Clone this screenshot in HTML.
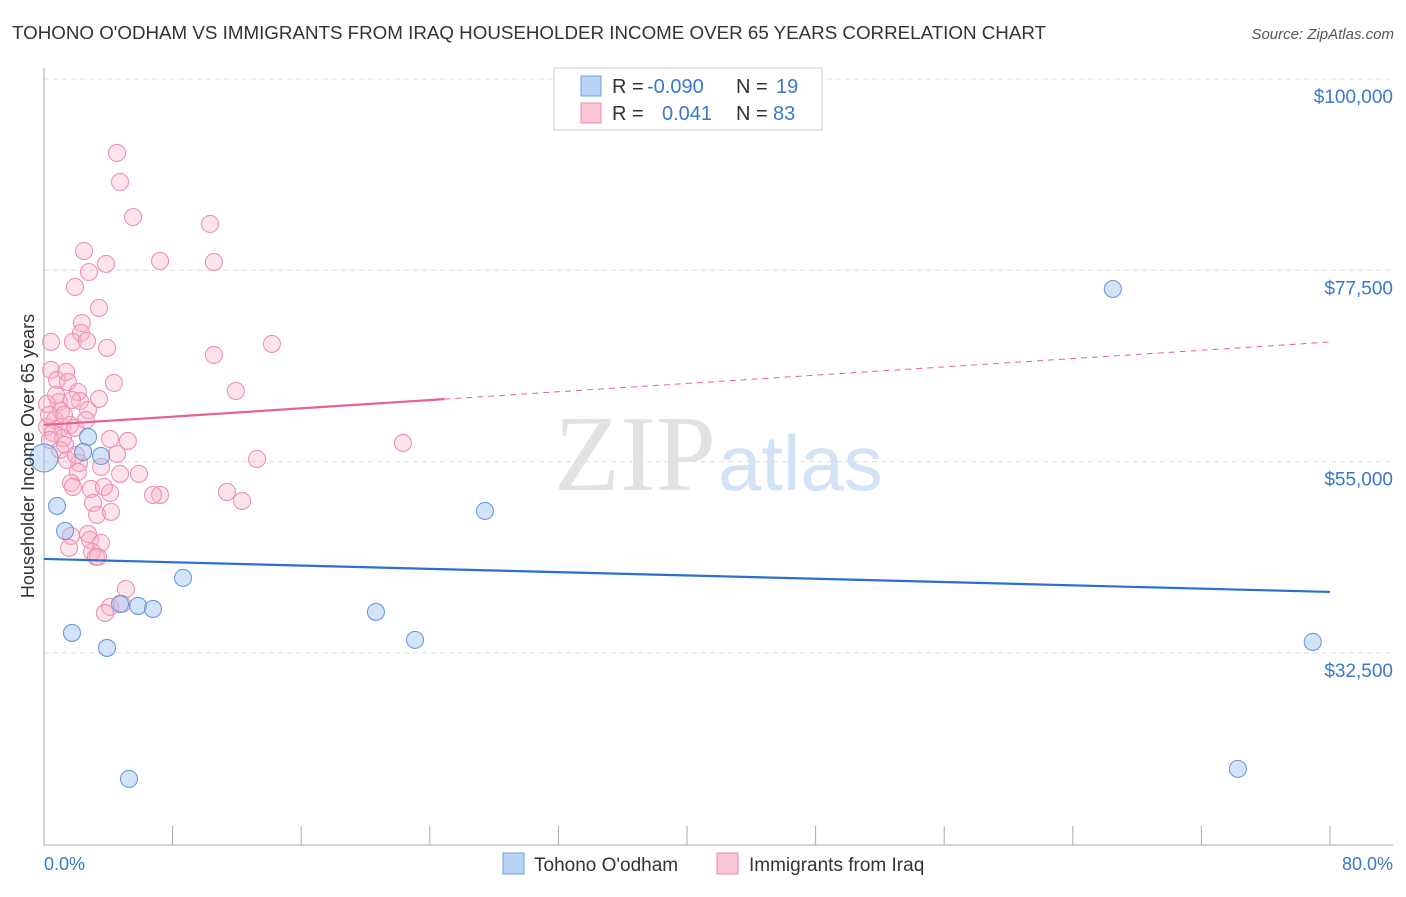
<!DOCTYPE html>
<html><head><meta charset="utf-8"><style>
body{margin:0;background:#fff;font-family:"Liberation Sans",sans-serif;}
</style></head><body>
<svg width="1406" height="892" viewBox="0 0 1406 892" xmlns="http://www.w3.org/2000/svg" font-family="Liberation Sans, sans-serif">
<text x="12" y="39" font-size="18" fill="#333" textLength="1034" lengthAdjust="spacingAndGlyphs">TOHONO O'ODHAM VS IMMIGRANTS FROM IRAQ HOUSEHOLDER INCOME OVER 65 YEARS CORRELATION CHART</text>
<text x="1394" y="39" font-size="15" fill="#555" font-style="italic" text-anchor="end">Source: ZipAtlas.com</text>
<g id="grid"></g>
<text x="716" y="490" font-size="108" fill="#e2e2e2" text-anchor="end" font-family="Liberation Serif, serif">ZIP</text>
<text x="718" y="490" font-size="78" fill="#d3e2f4">atlas</text>
<line x1="44" y1="68" x2="44" y2="845" stroke="#aaa"/>
<line x1="44" y1="845" x2="1393" y2="845" stroke="#aaa"/>
<g id="xticks"></g>
<g id="marks"></g>
<text x="44" y="870" font-size="18" fill="#3a78c9">0.0%</text>
<text x="1393" y="870" font-size="18" fill="#3a78c9" text-anchor="end">80.0%</text>
<text transform="translate(34,456) rotate(-90)" font-size="18" fill="#333" text-anchor="middle">Householder Income Over 65 years</text>
<g>
<rect x="554" y="68" width="268" height="62" fill="#fff" stroke="#ccc"/>
<rect x="581" y="76" width="20" height="20" fill="#b8d3f3" stroke="#6e9fdc"/>
<rect x="581" y="103" width="20" height="20" fill="#fbc6d6" stroke="#ec8aab"/>
<text y="93" font-size="20" fill="#333"><tspan x="612">R = </tspan><tspan x="647" fill="#3a78c9">-0.090</tspan><tspan x="736">N = </tspan><tspan x="776" fill="#3a78c9">19</tspan></text>
<text y="120" font-size="20" fill="#333"><tspan x="612">R = </tspan><tspan fill="#3a78c9" x="662">0.041</tspan><tspan x="736">N = </tspan><tspan x="773" fill="#3a78c9">83</tspan></text>
</g>
<g>
<rect x="503" y="853" width="21" height="21" fill="#b8d3f3" stroke="#6e9fdc"/>
<text x="534" y="871" font-size="19" fill="#333">Tohono O'odham</text>
<rect x="717" y="853" width="21" height="21" fill="#fbc6d6" stroke="#ec8aab"/>
<text x="749" y="871" font-size="19" fill="#333">Immigrants from Iraq</text>
</g>
</svg>
<script>
const yTicks=[100000,77500,55000,32500];
const yTickLabels=["$100,000","$77,500","$55,000","$32,500"];
const xTicks=[0,8,16,24,32,40,48,56,64,72,80];
const blueX=[0,0.81,1.31,1.74,2.74,2.43,3.55,3.92,4.73,5.29,5.85,6.78,8.65,20.65,23.08,27.43,66.49,74.27,78.93];
const blueY=[55430,49785,46845,34850,57900,56135,55665,33085,38260,17680,38025,37670,41320,37320,34030,49200,75300,18860,33790];
const pinkX=[4.54,4.73,5.54,10.33,2.49,7.22,10.57,3.86,2.80,1.93,3.42,2.36,2.30,1.80,2.67,0.44,3.92,10.57,14.18,4.35,11.94,22.33,0.44,0.81,1.37,1.49,2.11,2.24,0.93,0.19,1.06,2.74,0.68,1.12,0.19,0.56,1.62,1.18,1.93,4.11,5.22,4.54,2.18,2.11,4.73,5.91,3.55,1.68,1.80,2.92,3.73,4.11,7.22,6.78,11.38,12.32,13.25,3.05,3.30,4.17,2.74,1.68,1.56,2.86,3.55,2.99,3.23,3.36,5.10,4.11,4.85,3.79,0.37,1.00,1.31,0.75,1.24,1.74,0.31,3.42,2.61,1.43,1.99];
const pinkY=[91300,87890,83770,82950,79770,78600,78480,78250,77300,75540,73070,71300,70130,69070,69190,69070,68370,67540,68840,64250,63310,57190,65780,64600,65540,64370,63190,62130,62020,61780,60960,61070,59900,59080,59080,58370,59310,57780,58960,57660,57430,55900,54840,53780,53550,53550,54370,52490,52020,51780,52020,51310,51080,51080,51430,50370,55310,50140,48730,49080,46490,46260,44850,45790,45440,44380,43790,43790,40020,37910,38260,37200,57550,56370,56960,62840,60490,62250,60490,62370,59900,55190,55780];
const blueTrend=[43550,39670];
const pinkTrend=[59310,69070];
const pinkSolidEnd=[24.9];
const NS="http://www.w3.org/2000/svg";
const xs=v=>44+v/80*1286;
const ys=v=>79+(100000-v)/22500*191.3;
function mk(tag,attrs,parent){const e=document.createElementNS(NS,tag);for(const k in attrs)e.setAttribute(k,attrs[k]);parent.appendChild(e);return e;}
const grid=document.getElementById('grid');
yTicks.forEach((t,i)=>{
 const l=mk('line',{x1:44,x2:1393,y1:ys(t),y2:ys(t),stroke:'#ddd','stroke-dasharray':'5,4'},grid);
 
 
 const tx=mk('text',{x:1393,y:ys(t)+24,'font-size':19,fill:'#3a78c9','text-anchor':'end'},grid);
 tx.textContent=yTickLabels[i];
 
 
});
const xt=document.getElementById('xticks');
xTicks.forEach(t=>{
 const l=mk('line',{x1:xs(t),x2:xs(t),y1:826,y2:845,stroke:'#aaa'},xt);
 
 
});
const m=document.getElementById('marks');
pinkX.forEach((x,i)=>{
 const c=mk('circle',{cx:xs(x),cy:ys(pinkY[i]),r:8.5,fill:'rgba(248,175,200,0.35)',stroke:'#eb93b1','stroke-width':1.1},m);
 
 
});
blueX.forEach((x,i)=>{
 const c=mk('circle',{cx:xs(x),cy:ys(blueY[i]),r:i===0?14:8.5,fill:'rgba(160,195,240,0.45)',stroke:'#6b9bdb','stroke-width':1.1},m);
 
 
});
const pAt=x=>pinkTrend[0]+(pinkTrend[1]-pinkTrend[0])*x/80;
const bl=mk('line',{x1:xs(0),y1:ys(blueTrend[0]),x2:xs(80),y2:ys(blueTrend[1]),stroke:'#2a6fd1','stroke-width':2.2},m);


const ps=mk('line',{x1:xs(0),y1:ys(pAt(0)),x2:xs(pinkSolidEnd[0]),y2:ys(pAt(pinkSolidEnd[0])),stroke:'#e8628e','stroke-width':2.2},m);


const pd=mk('line',{x1:xs(pinkSolidEnd[0]),y1:ys(pAt(pinkSolidEnd[0])),x2:xs(80),y2:ys(pAt(80)),stroke:'#e8628e','stroke-width':1,'stroke-dasharray':'6,5'},m);


</script>
</body></html>
